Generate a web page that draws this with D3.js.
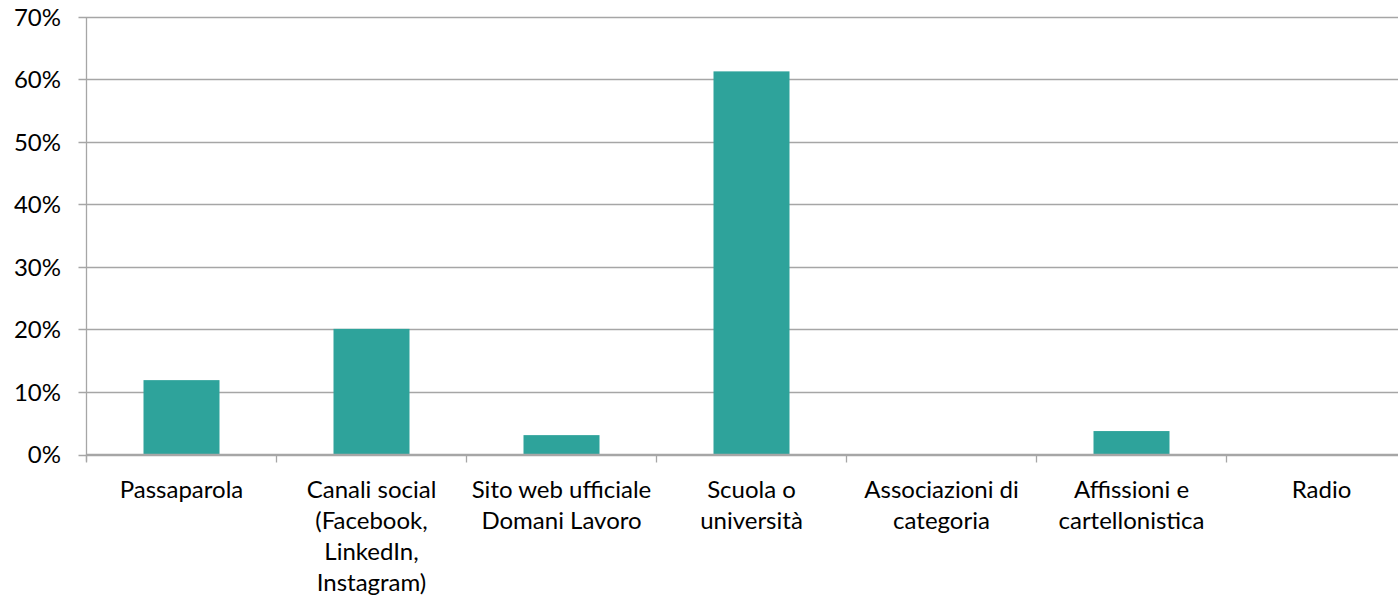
<!DOCTYPE html>
<html><head><meta charset="utf-8">
<script src="https://cdn.jsdelivr.net/npm/d3@7"></script>
<style>body{margin:0;background:#fff}svg{display:block}text{font-family:Lato,"Open Sans",sans-serif;fill:#000}</style>
</head><body>
<svg id="c" width="1398" height="602"></svg>
<script>
const categories = [
  ["Passaparola"],
  ["Canali social","(Facebook,","LinkedIn,","Instagram)"],
  ["Sito web ufficiale","Domani Lavoro"],
  ["Scuola o","università"],
  ["Associazioni di","categoria"],
  ["Affissioni e","cartellonistica"],
  ["Radio"]
];
const values = [0.119, 0.201, 0.031, 0.613, 0, 0.0375, 0];
const yTicks = [0,0.1,0.2,0.3,0.4,0.5,0.6,0.7];

const svg = d3.select("#c");
const mLeft = 86.5, mRight = 1416.5, mTop = 17, mBottom = 454.5;
const keys = categories.map((c,i)=>i);
const x = d3.scaleBand().domain(keys).range([mLeft,mRight]).paddingInner(0.6).paddingOuter(0.3);
const y = d3.scaleLinear().domain([0,0.7]).range([mBottom,mTop]);

svg.append("g").selectAll("line").data(yTicks).join("line")
  .attr("x1",mLeft-8).attr("x2",1398)
  .attr("y1",d=>Math.round(y(d))+0.5).attr("y2",d=>Math.round(y(d))+0.5)
  .attr("stroke","#a6a6a6").attr("stroke-width",1.3);

svg.append("g").selectAll("text").data(yTicks).join("text")
  .attr("x",61).attr("y",d=>y(d)).attr("dy","0.36em")
  .attr("text-anchor","end").style("font-size","24px")
  .text(d=>d3.format(".0%")(d));

svg.append("g").selectAll("rect").data(values).join("rect")
  .attr("x",(d,i)=>x(i)).attr("width",x.bandwidth())
  .attr("y",d=>y(d)).attr("height",d=>mBottom-y(d))
  .attr("fill","#2ea39b");

svg.append("line").attr("x1",mLeft).attr("x2",mLeft).attr("y1",mTop).attr("y2",mBottom+7)
  .attr("stroke","#a6a6a6").attr("stroke-width",1.3);
svg.append("line").attr("x1",mLeft).attr("x2",1398).attr("y1",mBottom).attr("y2",mBottom)
  .attr("stroke","#a6a6a6").attr("stroke-width",1.3);
const step = x.step();
const tickXs = d3.range(categories.length+1).map(i=>mLeft+i*step);
svg.append("g").selectAll("line").data(tickXs).join("line")
  .attr("x1",d=>d).attr("x2",d=>d)
  .attr("y1",mBottom).attr("y2",mBottom+8)
  .attr("stroke","#a6a6a6").attr("stroke-width",1.3);

const lab = svg.append("g").selectAll("text").data(categories).join("text")
  .attr("text-anchor","middle").style("font-size","24px")
  .attr("transform",(d,i)=>`translate(${x(i)+x.bandwidth()/2},${mBottom+43.5})`);
lab.selectAll("tspan").data(d=>d).join("tspan")
  .attr("x",0).attr("dy",(d,j)=>j===0?0:31).text(d=>d);
</script>
</body></html>
